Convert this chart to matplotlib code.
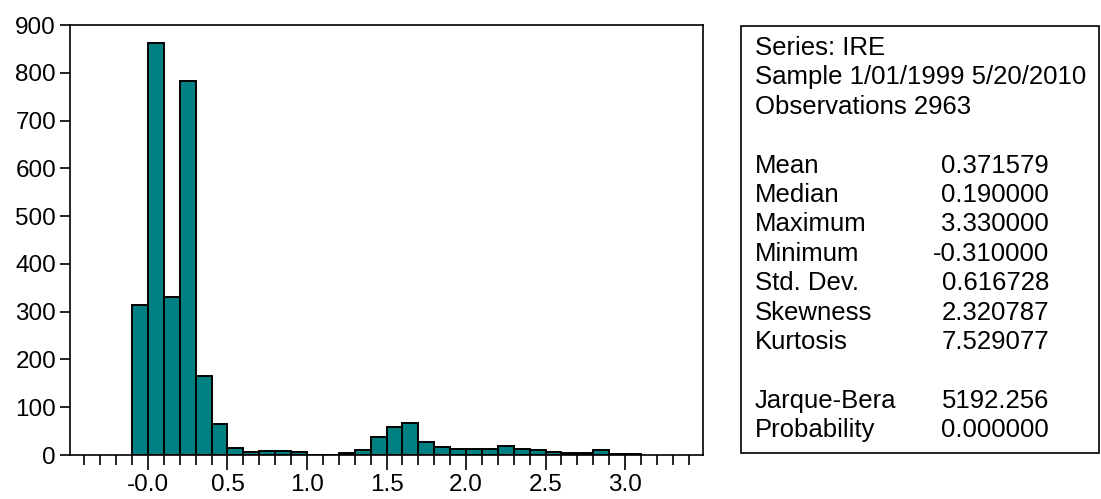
import matplotlib

matplotlib.use("Agg")
import matplotlib.pyplot as plt
from matplotlib.patches import Rectangle
from matplotlib.ticker import MultipleLocator

plt.rcParams["font.family"] = ["Liberation Sans", "DejaVu Sans"]

# Histogram of IRE: left edge of each 0.1-wide bin and its count.
bin_starts = [-0.1, 0.0, 0.1, 0.2, 0.3, 0.4, 0.5, 0.6, 0.7, 0.8, 0.9, 1.0,
              1.1, 1.2, 1.3, 1.4, 1.5, 1.6, 1.7, 1.8, 1.9, 2.0, 2.1, 2.2,
              2.3, 2.4, 2.5, 2.6, 2.7, 2.8, 2.9, 3.0]
counts = [314, 863, 331, 783, 166, 64, 15, 6, 9, 9, 6, 0,
          0, 4, 10, 37, 59, 68, 28, 16, 13, 13, 13, 19,
          13, 10, 7, 4, 4, 10, 2, 2]
bin_width = 0.1

x_major = [0.0, 0.5, 1.0, 1.5, 2.0, 2.5, 3.0]
x_labels = ["-0.0", "0.5", "1.0", "1.5", "2.0", "2.5", "3.0"]
y_ticks = [0, 100, 200, 300, 400, 500, 600, 700, 800, 900]

# Descriptive statistics panel (label, value); None marks a blank line.
header = ["Series: IRE", "Sample 1/01/1999 5/20/2010", "Observations 2963"]
stat_names = ["Mean", "Median", "Maximum", "Minimum", "Std. Dev.",
              "Skewness", "Kurtosis", None, "Jarque-Bera", "Probability"]
stat_values = ["0.371579", "0.190000", "3.330000", "-0.310000", "0.616728",
               "2.320787", "7.529077", None, "5192.256", "0.000000"]

FS = 17.5
FS_STATS = 18.5

fig = plt.figure(figsize=(11.01, 4.99), dpi=100)
ax = fig.add_axes([70 / 1101, 1 - 455 / 499, 633 / 1101, 430 / 499])

ax.bar(bin_starts, counts, width=bin_width, align="edge",
       color="#008080", edgecolor="black", linewidth=1.4)

ax.set_xlim(-0.49, 3.49)
ax.set_ylim(0, 900)
ax.set_yticks(y_ticks)
ax.set_xticks(x_major)
ax.set_xticklabels(x_labels)
ax.xaxis.set_minor_locator(MultipleLocator(0.1))
ax.tick_params(axis="both", labelsize=FS, direction="out", width=1.2)
ax.tick_params(axis="x", which="major", length=11, pad=3)
ax.tick_params(axis="x", which="minor", length=7, width=1.2)
ax.tick_params(axis="y", length=7, pad=3)
for s in ax.spines.values():
    s.set_linewidth(1.2)

# Statistics box to the right of the histogram.
box = Rectangle((741 / 1101, 1 - 453 / 499), 358 / 1101, 427 / 499,
                transform=fig.transFigure, fill=False, edgecolor="black",
                linewidth=1.2)
fig.add_artist(box)

line_h = 29.4
y0 = 48
x_lab = 755 / 1101
x_val = 1049 / 1101
for i, txt in enumerate(header):
    fig.text(x_lab, 1 - (y0 + i * line_h) / 499, txt, fontsize=FS_STATS,
             ha="left", va="center")
for i, (name, val) in enumerate(zip(stat_names, stat_values)):
    if name is None:
        continue
    y = 1 - (y0 + (i + 4) * line_h) / 499
    fig.text(x_lab, y, name, fontsize=FS_STATS, ha="left", va="center")
    fig.text(x_val, y, val, fontsize=FS_STATS, ha="right", va="center")

fig.savefig("out.png", dpi=100)
